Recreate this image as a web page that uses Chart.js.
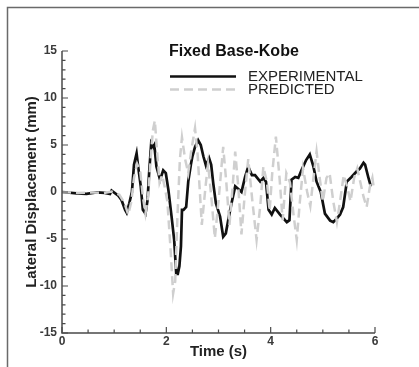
<!DOCTYPE html>
<html>
<head>
<meta charset="utf-8">
<title>Fixed Base-Kobe</title>
<script src="https://cdn.jsdelivr.net/npm/chart.js@4.4.0/dist/chart.umd.min.js"></script>
<style>
  html, body { margin: 0; padding: 0; background: #fff; }
  canvas { display: block; }
</style>
</head>
<body>
<canvas id="chart" width="419" height="367"></canvas>
<script>
// measured response (time in s, lateral displacement in mm)
const expTime = [0, 0.28, 0.47, 0.66, 0.82, 0.92, 0.95, 1.08, 1.14, 1.21, 1.24, 1.29, 1.34, 1.38, 1.43, 1.46,
  1.51, 1.55, 1.60, 1.64, 1.67, 1.71, 1.75, 1.77, 1.81, 1.88, 1.94, 1.99, 2.04, 2.10, 2.15, 2.19,
  2.22, 2.25, 2.28, 2.30, 2.33, 2.38, 2.42, 2.47, 2.50, 2.55, 2.61, 2.66, 2.71, 2.76, 2.82, 2.86,
  2.90, 2.95, 3.03, 3.09, 3.14, 3.21, 3.25, 3.32, 3.40, 3.44, 3.51, 3.57, 3.64, 3.70, 3.80, 3.86,
  3.91, 3.96, 4.02, 4.08, 4.18, 4.31, 4.36, 4.40, 4.47, 4.53, 4.59, 4.68, 4.75, 4.82, 4.88, 4.96,
  5.04, 5.14, 5.20, 5.27, 5.33, 5.39, 5.46, 5.55, 5.65, 5.71, 5.78, 5.81, 5.87, 5.92];
const expDisp = [0, -0.15, -0.2, -0.05, -0.1, -0.2, 0.15, -0.4, -0.85, -1.9, -2.2, -1.2, 0, 2.9, 4.1, 2.7,
  0.6, -1.9, -2.3, -0.85, 2.0, 5.2, 4.8, 5.0, 2.7, 1.3, 2.3, 2.0, 0.2, -2.6, -5.1, -8.7,
  -8.7, -7.9, -5.8, -1.9, -1.9, -1.6, 1.1, 2.9, 3.8, 4.8, 5.5, 5.0, 3.8, 2.8, 3.6, 2.9,
  0.9, -1.2, -2.6, -4.75, -4.4, -2.3, -1.2, 0.6, 0.2, 0, 1.6, 2.7, 1.8, 1.8, 1.1, 1.5,
  1.1, -1.9, -2.4, -1.7, -2.4, -3.2, -3.0, 1.3, 1.6, 1.5, 2.3, 3.4, 4.0, 2.7, 1.1, 0,
  -2.3, -3.05, -3.2, -2.8, -2.4, -1.6, 1.1, 1.6, 2.2, 2.5, 3.1, 2.9, 1.6, 0.6];

// model prediction
const predTime = [0, 0.3, 0.6, 0.8, 0.95, 1.1, 1.2, 1.27, 1.33, 1.38, 1.44, 1.5, 1.55, 1.6, 1.65, 1.7,
  1.74, 1.78, 1.82, 1.87, 1.92, 1.97, 2.02, 2.08, 2.13, 2.17, 2.21, 2.26, 2.3, 2.36, 2.42, 2.48,
  2.55, 2.6, 2.68, 2.75, 2.8, 2.87, 2.93, 3.0, 3.09, 3.15, 3.21, 3.27, 3.32, 3.38, 3.44, 3.5,
  3.57, 3.65, 3.73, 3.8, 3.86, 3.93, 3.98, 4.03, 4.1, 4.17, 4.23, 4.3, 4.37, 4.44, 4.5, 4.56,
  4.62, 4.7, 4.76, 4.82, 4.88, 4.94, 5.0, 5.07, 5.13, 5.2, 5.27, 5.33, 5.4, 5.47, 5.53, 5.6,
  5.66, 5.72, 5.78, 5.84, 5.9, 5.95, 5.98];
const predDisp = [0, -0.1, -0.05, -0.1, 0.05, -0.3, -1.2, -2.4, -1.0, 1.5, 3.0, 2.2, -0.5, -2.3, -0.5, 3.5,
  6.5, 7.6, 4.5, 1.0, 1.8, 0.5, -1.0, -6.0, -10.8, -9.5, -3.0, 3.5, 5.8, 3.5, 2.0, 4.5,
  6.8, 4.0, -3.5, 0.5, 3.0, -1.0, -4.9, -1.0, 4.8, 1.0, -3.5, 0.5, 4.3, 0.5, -4.5, -0.5,
  3.5, -1.0, -5.1, -1.5, 2.7, 1.0, -2.0, 2.0, 5.9, 1.5, -3.0, 2.0, 1.0, -2.5, -5.1, -1.0,
  2.5, 0, -1.5, 1.5, 4.3, 1.5, -1.0, 1.5, 2.0, -1.0, -3.2, -1.0, 1.8, 0.5, -1.0, 1.5,
  2.5, 1.0, -0.5, -1.6, 0.5, 1.5, 0.3];

const xTicks = [0, 2, 4, 6];
const yTicks = [-15, -10, -5, 0, 5, 10, 15];

const FONT = '"Liberation Sans", Arial, sans-serif';
const AXIS_COLOR = '#4a4a4a';

function toPoints(xs, ys) {
  return xs.map((x, i) => ({ x: x, y: ys[i] }));
}

// axes with inward ticks, titles, legend block and the outer frame
const decorations = {
  id: 'decorations',
  beforeDraw(chart) {
    const ctx = chart.ctx;
    ctx.save();
    ctx.fillStyle = '#fff';
    ctx.fillRect(0, 0, chart.width, chart.height);
    ctx.strokeStyle = '#6a6a6a';
    ctx.lineWidth = 1.5;
    ctx.beginPath();
    ctx.moveTo(7.5, chart.height);
    ctx.lineTo(7.5, 7.5);
    ctx.lineTo(chart.width, 7.5);
    ctx.stroke();
    ctx.restore();
  },
  afterDraw(chart) {
    const ctx = chart.ctx;
    const xs = chart.scales.x;
    const ys = chart.scales.y;
    const area = chart.chartArea;
    ctx.save();

    // axis lines
    ctx.strokeStyle = AXIS_COLOR;
    ctx.lineWidth = 1.5;
    ctx.beginPath();
    ctx.moveTo(area.left, area.top);
    ctx.lineTo(area.left, area.bottom);
    ctx.lineTo(area.right, area.bottom);
    ctx.stroke();

    // y ticks: major every 5, minor every 1
    ctx.lineWidth = 1.2;
    ctx.beginPath();
    for (let v = ys.min; v <= ys.max; v++) {
      const py = ys.getPixelForValue(v);
      const len = v % 5 === 0 ? 6 : 3.5;
      ctx.moveTo(area.left, py);
      ctx.lineTo(area.left + len, py);
    }
    // x ticks: major every 2, minor every 0.5
    for (let k = 0; k <= 12; k++) {
      const v = k * 0.5;
      const px = xs.getPixelForValue(v);
      const len = v % 2 === 0 ? 6 : 3.5;
      ctx.moveTo(px, area.bottom);
      ctx.lineTo(px, area.bottom - len);
    }
    ctx.stroke();

    // tick labels
    ctx.fillStyle = '#3a3a3a';
    ctx.font = 'bold 12px ' + FONT;
    ctx.textAlign = 'right';
    ctx.textBaseline = 'middle';
    yTicks.forEach(v => {
      ctx.fillText(String(v), area.left - 5, ys.getPixelForValue(v));
    });
    ctx.textAlign = 'center';
    ctx.textBaseline = 'top';
    xTicks.forEach(v => {
      ctx.fillText(String(v), xs.getPixelForValue(v), area.bottom + 3);
    });

    // axis titles
    ctx.fillStyle = '#222';
    ctx.font = 'bold 15px ' + FONT;
    ctx.textBaseline = 'middle';
    ctx.fillText('Time (s)', (area.left + area.right) / 2, 352);
    ctx.save();
    ctx.translate(32, ys.getPixelForValue(0));
    ctx.rotate(-Math.PI / 2);
    ctx.fillText('Lateral Displacement (mm)', 0, 0);
    ctx.restore();

    // legend
    ctx.textAlign = 'left';
    ctx.fillStyle = '#111';
    ctx.font = 'bold 16px ' + FONT;
    ctx.fillText('Fixed Base-Kobe', 169, 52);

    const rows = [
      { ds: chart.data.datasets[1], y: 76.5 },
      { ds: chart.data.datasets[0], y: 89.5 }
    ];
    rows.forEach(r => {
      ctx.strokeStyle = r.ds.borderColor;
      ctx.lineWidth = r.ds.borderWidth;
      ctx.setLineDash(r.ds.borderDash || []);
      ctx.beginPath();
      ctx.moveTo(170, r.y);
      ctx.lineTo(236, r.y);
      ctx.stroke();
      ctx.setLineDash([]);
      ctx.fillStyle = '#222';
      ctx.font = '15px ' + FONT;
      ctx.fillText(r.ds.label, 248, r.y);
    });

    ctx.restore();
  }
};

new Chart(document.getElementById('chart'), {
  type: 'line',
  data: {
    datasets: [
      {
        label: 'PREDICTED',
        data: toPoints(predTime, predDisp),
        borderColor: '#cfcfcf',
        borderWidth: 2.5,
        borderDash: [9, 5],
        pointRadius: 0,
        tension: 0,
        fill: false
      },
      {
        label: 'EXPERIMENTAL',
        data: toPoints(expTime, expDisp),
        borderColor: '#111',
        borderWidth: 2.7,
        pointRadius: 0,
        tension: 0,
        fill: false
      }
    ]
  },
  options: {
    responsive: false,
    animation: false,
    devicePixelRatio: 1,
    layout: { padding: { left: 62, right: 44, top: 51, bottom: 34 } },
    scales: {
      x: { type: 'linear', min: 0, max: 6, display: false },
      y: { type: 'linear', min: -15, max: 15, display: false }
    },
    plugins: {
      legend: { display: false },
      title: { display: false },
      tooltip: { enabled: false }
    }
  },
  plugins: [decorations]
});
</script>
</body>
</html>
